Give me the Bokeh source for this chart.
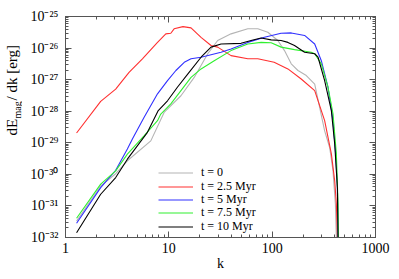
import numpy as np
from bokeh.plotting import figure
from bokeh.layouts import row
from bokeh.models import (LogAxis, LogTicker, CustomJSTickFormatter, Label, Legend,
                          LegendItem, Range1d)
from bokeh.embed import file_html
from bokeh.resources import INLINE

# ---- data ----
series_labels = ["t = 0", "t = 2.5 Myr", "t = 5 Myr", "t = 7.5 Myr", "t = 10 Myr"]
series_colors = ["#b4b4b4", "#ff3030", "#3030ff", "#30f030", "#000000"]

k_t0 = [1.28, 2.19, 3.06, 3.97, 6.69, 9.0, 13.1, 17.6, 23.8, 29.7, 40, 58.1, 72.6, 90.8,
        113.5, 131.6, 153, 177.7, 214, 258, 288, 322, 360, 388, 409, 418, 425]
logE_t0 = [-31.48, -30.37, -29.98, -29.57, -28.94, -28.04, -27.51, -26.93, -26.18, -25.76,
           -25.55, -25.39, -25.39, -25.50, -25.76, -26.08, -26.50, -26.71, -26.87, -27.14,
           -27.88, -28.62, -29.15, -29.89, -30.94, -32.0, -33.0]

k_t25 = [1.28, 2.19, 3.06, 4.12, 5.55, 7.77, 9.35, 10.45, 11.25, 13.7, 16.4, 20.5, 25.6,
         29.7, 40, 58.1, 72.6, 104.5, 142, 191, 258, 322, 374, 403, 418, 428, 440]
logE_t25 = [-28.69, -27.69, -27.30, -26.77, -26.34, -25.82, -25.55, -25.53, -25.39, -25.32,
            -25.36, -25.66, -25.92, -25.97, -26.24, -26.34, -26.34, -26.45, -26.66, -26.98,
            -27.35, -28.30, -29.35, -30.21, -30.94, -32.0, -33.0]

k_t5 = [1.28, 2.19, 3.06, 3.97, 4.44, 5.75, 7.77, 9.71, 11.7, 14.1, 16.4, 20.5, 32, 40,
        58.1, 84.2, 122, 153, 206, 258, 299, 347, 388, 412, 428, 434, 440]
logE_t5 = [-31.55, -30.42, -29.87, -29.20, -28.88, -28.20, -27.45, -27.03, -26.71, -26.45,
           -26.34, -26.29, -26.13, -26.03, -25.82, -25.66, -25.53, -25.52, -25.60, -25.87,
           -26.40, -27.24, -28.30, -29.36, -30.42, -32.0, -33.0]

k_t75 = [1.28, 2.19, 3.06, 3.97, 5.75, 7.77, 8.36, 10.45, 13.1, 16.4, 20.5, 27.5, 40, 58.1,
         78.2, 97.8, 122, 164.6, 239, 258, 299, 347, 388, 418, 434, 440]
logE_t75 = [-31.39, -30.31, -29.89, -29.36, -28.78, -28.30, -28.09, -27.77, -27.35, -26.93,
            -26.66, -26.40, -26.08, -25.87, -25.82, -25.83, -25.97, -26.05, -26.13, -26.18,
            -26.50, -27.24, -28.08, -29.35, -30.94, -33.0]

k_t10 = [1.28, 2.19, 3.06, 3.97, 6.21, 7.9, 9.71, 12.1, 15.7, 20.5, 25.6, 32, 50, 62.5,
         78.2, 97.8, 122, 142, 164.6, 206, 258, 278, 322, 374, 403, 428, 434, 440]
logE_t10 = [-31.85, -30.63, -30.10, -29.52, -28.67, -27.98, -27.67, -27.24, -26.77, -26.29,
            -25.97, -25.87, -25.85, -25.76, -25.68, -25.74, -25.76, -25.82, -25.92, -26.13,
            -26.18, -26.29, -27.03, -27.98, -29.04, -30.42, -32.0, -33.0]

x_limits = (1, 1000)
y_limits = (1e-32, 1e-25)
x_label = "k"
y_label_parts = ["dE", "mag", "/ dk [erg]"]

FONT = "Liberation Serif"
AX = "#555555"
W, H = 399, 279
LW = 22  # width of the strip that carries the y axis title

p = figure(width=W - LW, height=H, x_axis_type="log", y_axis_type="log",
           x_range=Range1d(*x_limits), y_range=Range1d(*y_limits),
           output_backend="svg", toolbar_location=None,
           min_border_left=65 - LW, min_border_right=24, min_border_top=16, min_border_bottom=42)
p.grid.visible = False
p.outline_line_color = AX
p.background_fill_color = "white"
p.border_fill_color = "white"

ks = [k_t0, k_t25, k_t5, k_t75, k_t10]
les = [logE_t0, logE_t25, logE_t5, logE_t75, logE_t10]
renderers = []
for kk, le, c in zip(ks, les, series_colors):
    r = p.line(kk, list(10.0 ** np.array(le)), line_color=c, line_width=1.1)
    renderers.append(r)

sup_fmt = CustomJSTickFormatter(code="""
const e = Math.round(Math.log10(tick));
const m = {"-":"\u207b","0":"\u2070","1":"\u00b9","2":"\u00b2","3":"\u00b3","4":"\u2074",
           "5":"\u2075","6":"\u2076","7":"\u2077","8":"\u2078","9":"\u2079"};
return "10" + String(e).split("").map(c => m[c]).join("");
""")
plain_fmt = CustomJSTickFormatter(code="return Math.round(tick).toString();")
empty_fmt = CustomJSTickFormatter(code="return '';")

def style_axis(ax):
    ax.axis_line_color = AX
    ax.axis_line_width = 1
    ax.major_tick_line_color = AX
    ax.minor_tick_line_color = AX
    ax.major_tick_in = 6
    ax.major_tick_out = 0
    ax.minor_tick_in = 3
    ax.minor_tick_out = 0
    ax.major_label_text_font = FONT
    ax.major_label_text_font_size = "14px"
    ax.major_label_text_color = "black"

p.xaxis.ticker = LogTicker(num_minor_ticks=10)
p.yaxis.ticker = LogTicker(num_minor_ticks=10)
p.xaxis.formatter = plain_fmt
p.yaxis.formatter = sup_fmt
for ax in p.xaxis + p.yaxis:
    style_axis(ax)
p.xaxis.major_label_standoff = 5
p.yaxis.major_label_standoff = 7
p.xaxis.axis_label = x_label
p.xaxis.axis_label_text_font = FONT
p.xaxis.axis_label_text_font_size = "14px"
p.xaxis.axis_label_text_font_style = "normal"
p.xaxis.axis_label_text_color = "black"
p.xaxis.axis_label_standoff = 0

for side in ("above", "right"):
    ax = LogAxis(ticker=LogTicker(num_minor_ticks=10), formatter=empty_fmt)
    style_axis(ax)
    ax.major_label_text_font_size = "0px"
    ax.major_label_standoff = 0
    p.add_layout(ax, side)

# one legend row per series, stacked from the bottom of the frame
row_h = 13
row_step = 13.3
for i, (lab, r) in enumerate(zip(series_labels, renderers)):
    lg = Legend(items=[LegendItem(label=lab, renderers=[r])],
                location=(93, 3.5 + (len(series_labels) - 1 - i) * row_step),
                border_line_color=None, background_fill_alpha=0,
                glyph_width=35, glyph_height=row_h, label_height=row_h, label_standoff=8,
                spacing=0, padding=0, margin=0, label_text_font=FONT,
                label_text_font_size="12px", label_text_color="black")
    p.add_layout(lg)

# strip on the left carrying the rotated y axis title (dE_mag / dk [erg])
t = figure(width=LW, height=H, output_backend="svg", toolbar_location=None,
           x_axis_location=None, y_axis_location=None, min_border=0,
           x_range=Range1d(0, 1), y_range=Range1d(0, 1))
t.grid.visible = False
t.outline_line_color = None
t.background_fill_color = "white"
t.border_fill_color = "white"
lab_kw = dict(x_units="screen", y_units="screen", angle=np.pi / 2, text_font=FONT,
              text_align="left", text_baseline="middle", text_color="black")
t.add_layout(Label(x=11, y=102, text=y_label_parts[0], text_font_size="15px", **lab_kw))
t.add_layout(Label(x=16.5, y=119, text=y_label_parts[1], text_font_size="10px", **lab_kw))
t.add_layout(Label(x=11, y=137, text=y_label_parts[2], text_font_size="15px", **lab_kw))

layout = row(t, p, spacing=0)
open("out.html", "w").write(file_html(layout, INLINE))
